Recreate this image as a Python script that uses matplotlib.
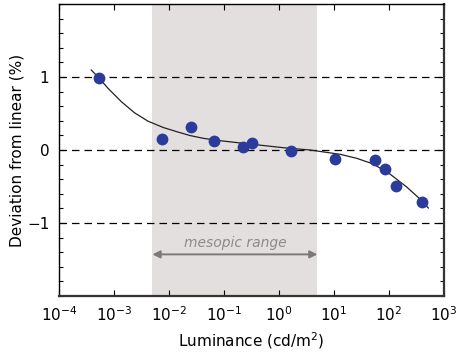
import matplotlib
matplotlib.use("Agg")
import matplotlib.pyplot as plt
from matplotlib.ticker import FixedLocator, MultipleLocator, LogLocator, NullLocator

# measured points: luminance (cd/m^2) and deviation from linear (%)
lum = [5.3e-4, 0.0075, 0.025, 0.066, 0.22, 0.32, 1.65, 10.4, 55, 84.5, 134, 400]
dev = [0.99, 0.15, 0.315, 0.12, 0.04, 0.10, -0.02, -0.13, -0.14, -0.26, -0.49, -0.71]

# fitted curve
fit_lum = [3.86e-4, 5.41e-4, 7.78e-4, 1.36e-3, 2.38e-3, 4.15e-3, 7.87e-3,
           1.38e-2, 2.41e-2, 4.21e-2, 7.36e-2, 0.221, 1.18, 3.66,
           12.9, 25.9, 51.9, 104, 210, 366, 519]
fit_dev = [1.096, 0.982, 0.845, 0.662, 0.508, 0.395, 0.308,
           0.251, 0.198, 0.160, 0.133, 0.092, 0.032, 0.0,
           -0.059, -0.114, -0.192, -0.329, -0.507, -0.671, -0.795]

mesopic = (0.005, 5)
ref_lines = [1, 0, -1]

fig = plt.figure(figsize=(4.58, 3.6), dpi=100)
ax = fig.add_axes([0.1288, 0.1778, 0.8406, 0.8111])

ax.axvspan(mesopic[0], mesopic[1], color="#e4dfdf", lw=0, zorder=0)
for yv in ref_lines:
    ax.axhline(yv, color="black", lw=0.9, ls=(0, (6, 4)), zorder=1)

ax.plot(fit_lum, fit_dev, color="#222222", lw=0.9, zorder=2)
ax.plot(lum, dev, "o", color="#2b3b9b", ms=8.5, mec="none", zorder=3)

ax.annotate("", xy=(mesopic[0], -1.43), xytext=(mesopic[1], -1.43),
            arrowprops=dict(arrowstyle="<|-|>", color="#7a7a7a", lw=1.4,
                            mutation_scale=11, shrinkA=0, shrinkB=0))
ax.text(0.16, -1.28, "mesopic range", ha="center", va="center",
        style="italic", color="#8a8a8a", fontsize=10)

ax.set_xscale("log")
ax.set_xlim(1e-4, 1e3)
ax.set_ylim(-2, 2)
ax.xaxis.set_major_locator(LogLocator(base=10, numticks=10))
ax.xaxis.set_minor_locator(NullLocator())
ax.yaxis.set_major_locator(FixedLocator([-1, 0, 1]))
ax.yaxis.set_minor_locator(MultipleLocator(0.2))
ax.set_yticklabels(["\u22121", "0", "1"])

ax.tick_params(which="both", direction="in", top=True, right=True,
               labelsize=11, pad=7)
ax.tick_params(which="major", length=4, width=0.8)
ax.tick_params(which="minor", length=3, width=0.8)

for side in ["left", "top"]:
    ax.spines[side].set_linewidth(1.0)
for side in ["right", "bottom"]:
    ax.spines[side].set_linewidth(1.6)
    ax.spines[side].set_color("#333333")

ax.set_xlabel("Luminance (cd/m$^2$)", fontsize=11, labelpad=4)
ax.set_ylabel("Deviation from linear (%)", fontsize=11, labelpad=2)

fig.savefig("out.png", dpi=100)
